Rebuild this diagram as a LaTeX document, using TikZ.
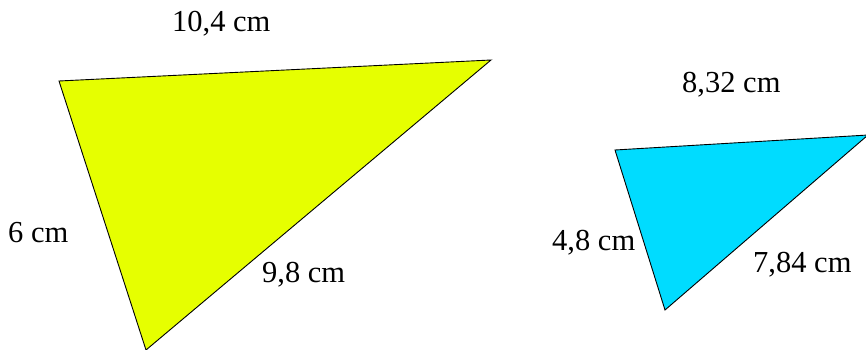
\documentclass[tikz,border=0pt]{standalone}
\usepackage{fontspec}
\setmainfont{Liberation Serif}
\usetikzlibrary{positioning}

\definecolor{triyellow}{RGB}{230,255,0}
\definecolor{tricyan}{RGB}{0,220,255}

\begin{document}
\begin{tikzpicture}[
    x=1pt, y=-1pt,
    font=\fontsize{30.5}{36}\selectfont,
    tri/.style={draw=black, line width=0.9pt, line join=miter},
    lbl/.style={anchor=base west, inner sep=0pt}
  ]
    \useasboundingbox (0,0) rectangle (866,350);
    % big triangle
    \coordinate (a1) at (59,81);
    \coordinate (b1) at (491,60);
    \coordinate (c1) at (146,350);
    \filldraw[tri, fill=triyellow] (a1) -- (b1) -- (c1) -- cycle;
    % small triangle
    \coordinate (a2) at (615,150);
    \coordinate (b2) at (868,135);
    \coordinate (c2) at (665,310);
    \filldraw[tri, fill=tricyan] (a2) -- (b2) -- (c2) -- cycle;
    % side lengths
    \node[lbl] (top1) at (172,32) {10,4 cm};
    \node[lbl] (left1) at (8,242) {6 cm};
    \node[lbl] (diag1) at (262,282) {9,8 cm};
    \node[lbl] (top2) at (682,93) {8,32 cm};
    \node[lbl] (left2) at (552,250) {4,8 cm};
    \node[lbl] (diag2) at (753,272) {7,84 cm};
  \end{tikzpicture}
\end{document}
